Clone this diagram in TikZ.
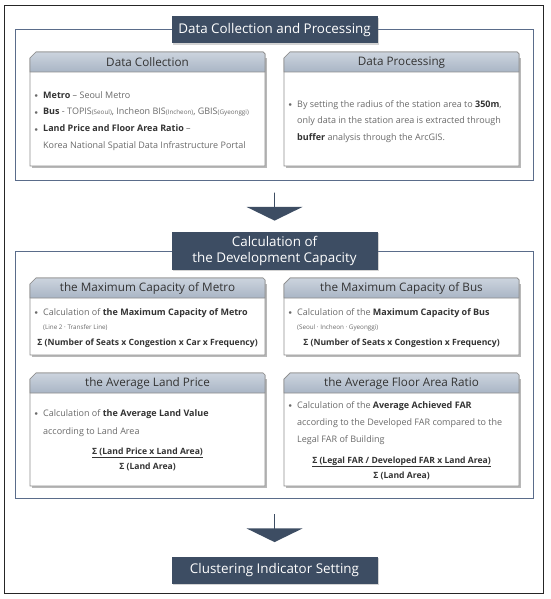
\documentclass[tikz,border=0pt]{standalone}
\usepackage{fontspec}
\setmainfont{Open Sans}
\usepackage{tikz}
\usepackage{xcolor}
\usetikzlibrary{shapes}
\usetikzlibrary{shadows}
\usetikzlibrary{calc}
\usetikzlibrary{positioning, arrows.meta}

\definecolor{hdrblue}{HTML}{3D4D63}
\definecolor{frameblue}{HTML}{5A6C8A}
\definecolor{bandtop}{HTML}{CCD4DE}
\definecolor{bandbot}{HTML}{A9B5C5}
\definecolor{panelgray}{HTML}{8E8E8E}
\definecolor{txtgray}{HTML}{6A6A6A}
\definecolor{txtdark}{HTML}{333333}

\newcommand{\dk}[1]{{\color{txtdark}\bfseries #1}}
\newcommand{\sm}[1]{{\fontsize{6.3}{7}\selectfont #1}}
\newcommand{\bul}{\leavevmode\makebox[0pt][r]{\raisebox{.3pt}{$\scriptstyle\bullet$}\hspace{5pt}}}

\begin{document}
\begin{tikzpicture}[x=1pt, y=-1pt,
    hdrbox/.style={fill=hdrblue, text=white, font=\fontsize{13.4}{15.5}\selectfont, minimum width=206pt, inner sep=0pt, align=center, drop shadow={shadow xshift=1.2pt, shadow yshift=-1.2pt, opacity=.35}},
    frame/.style={draw=frameblue, line width=1.2pt, inner sep=0pt, anchor=north west},
    blockarrow/.style={single arrow, fill=hdrblue, shape border rotate=270, minimum height=28pt, minimum width=56pt, single arrow head extend=14pt, single arrow head indent=0pt, single arrow tip angle=128, inner sep=0pt},
    paneltitle/.style={text=txtdark, font=\fontsize{11.7}{13}\selectfont, inner sep=0pt},
    bodytext/.style={text=txtgray, font=\fontsize{9}{16.8}\selectfont, align=left, inner sep=0pt, anchor=north west},
    sumtext/.style={text=txtdark, font=\fontsize{8.6}{15}\selectfont\bfseries, align=center, inner sep=0pt}]
    \useasboundingbox (0,0) rectangle (550,599);
    \draw[black!85, line width=.8pt] (4,5) rectangle (543,593);

    % two frames, headers drawn over them
    \node[frame, minimum width=518pt, minimum height=151pt] (fr1) at (15,29) {};
    \node[frame, minimum width=518pt, minimum height=247pt] (fr2) at (15,251) {};

    \node[hdrbox, minimum height=27pt] (h1) at (274.5,30) {Data Collection and Processing};
    \node[hdrbox, minimum height=38pt] (h2) at (274.5,251) {Calculation of\\the Development Capacity};
    \node[hdrbox, minimum height=27pt] (h3) at (274.5,570.5) {Clustering Indicator Setting};

    \node[blockarrow] (ar1) at ($(fr1.south)!.5!(h2.north)$) {};
    \node[blockarrow] (ar2) at ($(fr2.south)!.5!(h3.north)$) {};

    % panels
    \foreach \nm/\px/\py/\pb/\ttl in {dc/30/52/166/Data Collection, dp/284/52/166/Data Processing,
        mm/30/278/355/the Maximum Capacity of Metro, mb/284/278/355/the Maximum Capacity of Bus,
        lp/30/373/486/the Average Land Price, fa/284/373/486/the Average Floor Area Ratio}{
        \fill[black!28] (\px+2,\py+6) rectangle (\px+236.5,\pb+1.8);
        \draw[panelgray, fill=white, line width=.7pt] (\px,\py+6) -- (\px+6,\py) -- (\px+233,\py) -- (\px+235,\py+2) -- (\px+235,\pb) -- (\px,\pb) -- cycle;
        \shade[top color=bandtop, bottom color=bandbot, draw=panelgray, line width=.7pt] (\px,\py+6) -- (\px+6,\py) -- (\px+233,\py) -- (\px+235,\py+2) -- (\px+235,\py+20) -- (\px,\py+20) -- cycle;
        \node[paneltitle] (\nm) at (\px+117.5,\py+10.5) {\ttl};
    }

    \node[bodytext] (dctxt) at (43,91) {\bul\dk{Metro} -- Seoul Metro\\
        \bul\dk{Bus} - TOPIS\sm{(Seoul)}, Incheon BIS\sm{(Incheon)}, GBIS\sm{(Gyeonggi)}\\
        \bul\dk{Land Price and Floor Area Ratio} --\\
        Korea National Spatial Data Infrastructure Portal};
    \node[bodytext, font=\fontsize{9}{16.5}\selectfont] (dptxt) at (297,100) {\bul By setting the radius of the station area to \dk{350m},\\
        only data in the station area is extracted through\\
        \dk{buffer} analysis through the ArcGIS.};

    \node[bodytext, font=\fontsize{9}{14.5}\selectfont] (mmtxt) at (43,308) {\bul Calculation of \dk{the Maximum Capacity of Metro}\\
        \sm{(Line 2 · Transfer Line)}};
    \node[sumtext] (mmsum) at (147.5,343) {Σ (Number of Seats x Congestion x Car x Frequency)};
    \node[bodytext, font=\fontsize{9}{14.5}\selectfont] (mbtxt) at (297,308) {\bul Calculation of the \dk{Maximum Capacity of Bus}\\
        \sm{(Seoul · Incheon · Gyeonggi)}};
    \node[sumtext] (mbsum) at (401.5,343) {Σ (Number of Seats x Congestion x Frequency)};

    \node[bodytext, font=\fontsize{9}{18}\selectfont] (lptxt) at (43,409) {\bul Calculation of \dk{the Average Land Value}\\
        according to Land Area};
    \node[sumtext] (lpsum) at (147.5,459.5) {\underline{Σ (Land Price x Land Area)}\\Σ (Land Area)};
    \node[bodytext, font=\fontsize{9}{17}\selectfont] (fatxt) at (297,401) {\bul Calculation of the \dk{Average Achieved FAR}\\
        according to the Developed FAR compared to the\\
        Legal FAR of Building};
    \node[sumtext] (fasum) at (401.5,468) {\underline{Σ (Legal FAR / Developed FAR x Land Area)}\\Σ (Land Area)};
\end{tikzpicture}
\end{document}
